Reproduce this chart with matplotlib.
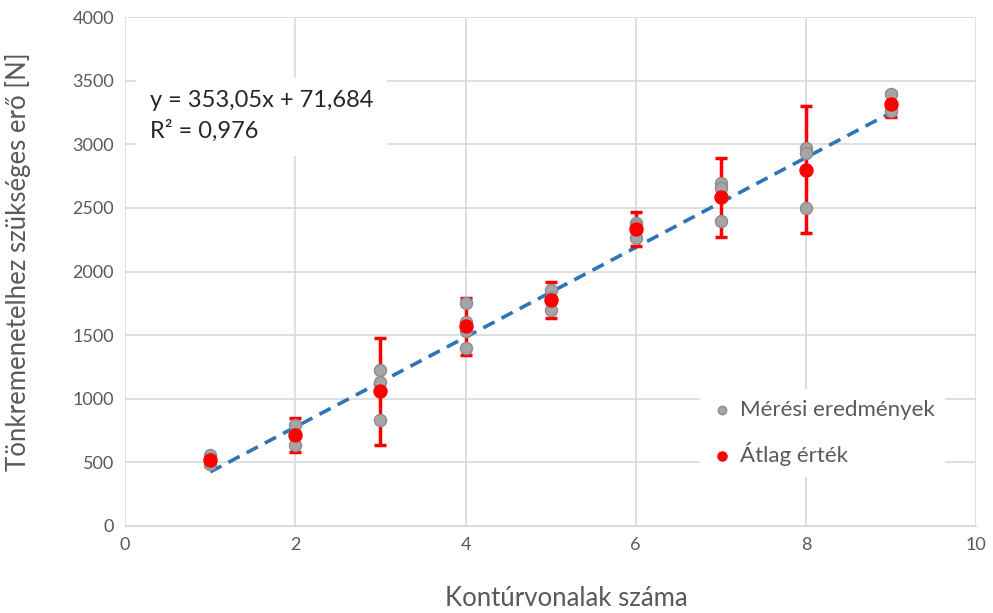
import numpy as np
import matplotlib.pyplot as plt

plt.rcParams['font.family'] = ['Lato', 'DejaVu Sans']

# Measurements per contour count
x_meas = [1, 1, 1,
          2, 2, 2,
          3, 3, 3,
          4, 4, 4, 4,
          5, 5, 5,
          6, 6, 6,
          7, 7, 7,
          8, 8, 8,
          9, 9, 9]
y_meas = [555, 530, 490,
          795, 720, 640,
          1225, 1130, 830,
          1750, 1600, 1530, 1400,
          1855, 1790, 1695,
          2380, 2355, 2265,
          2700, 2660, 2400,
          2970, 2930, 2500,
          3395, 3300, 3260]

# Averages and their error bars
x_avg = [1, 2, 3, 4, 5, 6, 7, 8, 9]
y_avg = [515, 715, 1060, 1570, 1775, 2335, 2585, 2800, 3315]
y_err = [45, 135, 420, 225, 140, 135, 310, 500, 100]

# Linear trendline
slope = 353.05
intercept = 71.684
eq_text = "y = 353,05x + 71,684\nR² = 0,976"

grey_txt = '#595959'

fig = plt.figure(figsize=(9.93, 6.13), dpi=100)
ax = fig.add_axes([0.126, 0.142, 0.857, 0.830])

ax.set_xlim(0, 10)
ax.set_ylim(0, 4000)
ax.set_xticks(np.arange(0, 11, 2))
ax.set_yticks(np.arange(0, 4001, 500))
ax.grid(True, color='#d9d9d9', linewidth=1.2)
ax.set_axisbelow(True)
for s in ['top', 'right', 'left']:
    ax.spines[s].set_visible(False)
ax.spines['bottom'].set_color('#d9d9d9')
ax.tick_params(length=0, labelsize=13, colors=grey_txt, pad=8)

xs = np.array([1, 9])
ax.plot(xs, slope * xs + intercept, linestyle=(0, (3.5, 2.2)), color='#2e75b6',
        linewidth=2.6, zorder=2)

ax.errorbar(x_avg, y_avg, yerr=y_err, fmt='none', ecolor='#ff0000',
            elinewidth=2.5, capsize=4.5, capthick=2.5, zorder=3)
ax.scatter(x_meas, y_meas, s=75, color='#a5a5a5', edgecolor='#8c8c8c',
           linewidth=1, zorder=4, label='Mérési eredmények')
ax.scatter(x_avg, y_avg, s=88, color='#ff0000', edgecolor='#ff0000',
           zorder=5, label='Átlag érték')

ax.text(0.29, 3222, eq_text, fontsize=17, color='#262626', linespacing=1.45,
        va='center', ha='left', zorder=6,
        bbox=dict(facecolor='white', edgecolor='none', pad=10))

leg = ax.legend(loc='upper left', bbox_to_anchor=(0.675, 0.27), fontsize=16,
                frameon=True, framealpha=1, edgecolor='none', handletextpad=0.3,
                handlelength=1.0, labelspacing=1.0, markerscale=0.7,
                borderpad=0.5, borderaxespad=0)
for t in leg.get_texts():
    t.set_color(grey_txt)

fig.text(566 / 993, 1 - 598 / 613, 'Kontúrvonalak száma', fontsize=18.5,
         color=grey_txt, ha='center', va='center')
fig.text(18 / 993, 1 - 262 / 613, 'Tönkremenetelhez szükséges erő [N]',
         fontsize=18.5, color=grey_txt, ha='center', va='center', rotation=90)

fig.savefig('out.png', dpi=100)
